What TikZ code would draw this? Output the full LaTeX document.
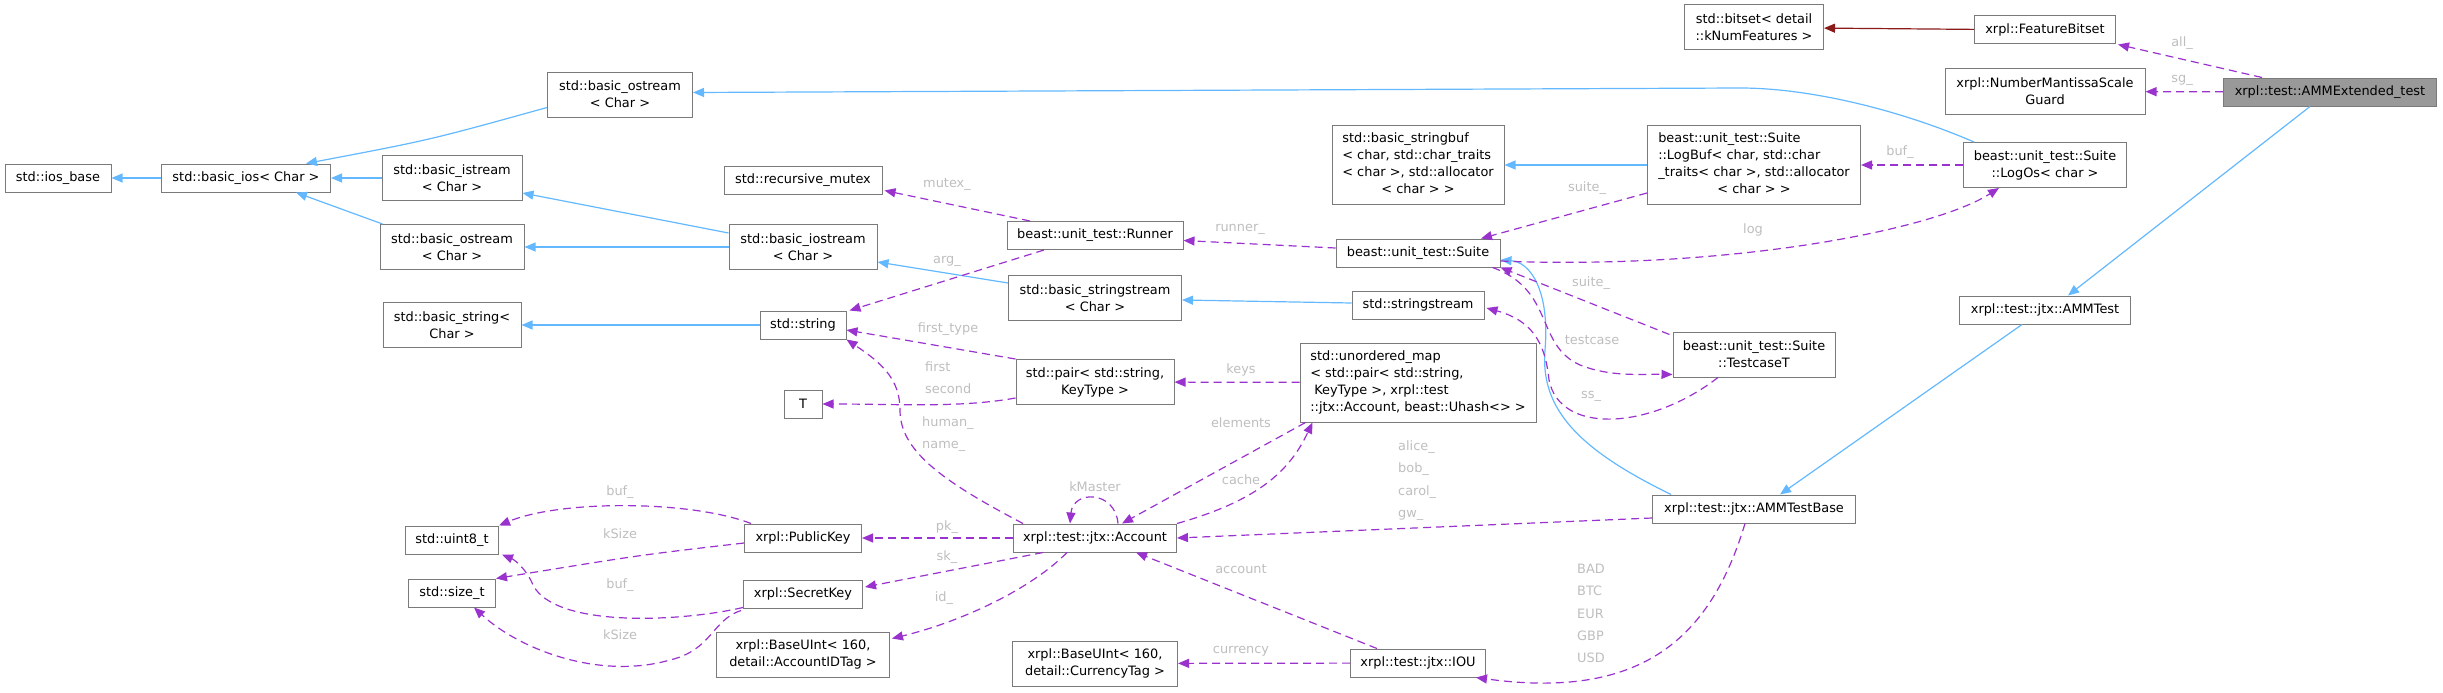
\documentclass[tikz,border=0pt]{standalone}
\usepackage{fontspec}
\setmainfont{DejaVu Sans}
\usetikzlibrary{arrows.meta,calc}
\definecolor{inhblue}{HTML}{63B8FF}
\definecolor{usepurple}{HTML}{9A32CD}
\definecolor{privred}{HTML}{8B1A1A}
\definecolor{boxgray}{HTML}{7A7A7A}
\definecolor{lblgray}{HTML}{BEBEBE}
\definecolor{selfill}{HTML}{999999}
\begin{document}
\begin{tikzpicture}[x=1pt,y=-1pt,
  cls/.style={draw=boxgray, fill=white, line width=1pt, rectangle, inner sep=2pt,
    font=\fontsize{12.9}{17}\selectfont},
  one/.style={minimum height=28pt},
  two/.style={minimum height=45pt},
  four/.style={minimum height=79pt},
  lbl/.style={text=lblgray, inner sep=0pt, font=\fontsize{12.9}{22.3}\selectfont, align=left},
  tip/.style={-{Triangle[length=11pt,width=9pt]}},
  inh/.style={tip, draw=inhblue, line width=1.2pt},
  priv/.style={tip, draw=privred, line width=1.2pt},
  use/.style={tip, draw=usepurple, line width=1.2pt, dash pattern=on 8pt off 5pt}
]
\useasboundingbox (0,0) rectangle (2443,693);

% ---- nodes ----
\node[cls,one,minimum width=106pt] (iosbase) at (58,178) {std::ios\_base};
\node[cls,one,minimum width=169pt] (basicios) at (246,178) {std::basic\_ios< Char >};
\node[cls,two,minimum width=145pt,align=center] (ostreamA) at (620,94.5) {std::basic\_ostream\\< Char >};
\node[cls,two,minimum width=140pt,align=center] (istream) at (452,178) {std::basic\_istream\\< Char >};
\node[cls,two,minimum width=144pt,align=center] (ostreamB) at (452,247) {std::basic\_ostream\\< Char >};
\node[cls,two,minimum width=138pt,align=center] (bstring) at (452,325) {std::basic\_string<\\Char >};
\node[cls,one,minimum width=158pt] (rmutex) at (803,180) {std::recursive\_mutex};
\node[cls,two,minimum width=148pt,align=center] (iostream) at (803,247) {std::basic\_iostream\\< Char >};
\node[cls,one,minimum width=86pt] (string) at (803,325) {std::string};
\node[cls,one,minimum width=38pt] (T) at (803,404) {T};
\node[cls,one,minimum width=176pt] (runner) at (1095,235.5) {beast::unit\_test::Runner};
\node[cls,two,minimum width=173pt,align=center] (sstreamB) at (1095,298) {std::basic\_stringstream\\< Char >};
\node[cls,two,minimum width=158pt,align=center] (pair) at (1095,382) {std::pair< std::string,\\KeyType >};
\node[cls,four,minimum width=172pt] (stringbuf) at (1418,165) {\begin{tabular}{@{}l@{}}std::basic\_stringbuf\\< char, std::char\_traits\\< char >, std::allocator\\\multicolumn{1}{@{}c@{}}{< char > >}\end{tabular}};
\node[cls,one,minimum width=164pt] (suite) at (1418,253) {beast::unit\_test::Suite};
\node[cls,one,minimum width=132pt] (sstream) at (1418,305) {std::stringstream};
\node[cls,four,minimum width=236pt] (umap) at (1418,382.5) {\begin{tabular}{@{}l@{}}std::unordered\_map\\< std::pair< std::string,\\\hspace{4pt}KeyType >, xrpl::test\\::jtx::Account, beast::Uhash<> >\end{tabular}};
\node[cls,two,minimum width=139pt,align=center] (bitset) at (1754,27.5) {std::bitset< detail\\::kNumFeatures >};
\node[cls,one,minimum width=141pt] (featbits) at (2045,30) {xrpl::FeatureBitset};
\node[cls,two,minimum width=200pt,align=center] (nmsg) at (2045,91.5) {xrpl::NumberMantissaScale\\Guard};
\node[cls,one,minimum width=213pt,fill=selfill] (ammext) at (2330,92) {xrpl::test::AMMExtended\_test};
\node[cls,four,minimum width=213pt] (logbuf) at (1754,165) {\begin{tabular}{@{}l@{}}beast::unit\_test::Suite\\::LogBuf< char, std::char\\\_traits< char >, std::allocator\\\multicolumn{1}{@{}c@{}}{< char > >}\end{tabular}};
\node[cls,two,minimum width=163pt,align=center] (logos) at (2045,165) {beast::unit\_test::Suite\\::LogOs< char >};
\node[cls,one,minimum width=171pt] (ammtest) at (2045,310) {xrpl::test::jtx::AMMTest};
\node[cls,two,minimum width=162pt,align=center] (testcaseT) at (1754,354.5) {beast::unit\_test::Suite\\::TestcaseT};
\node[cls,one,minimum width=203pt] (ammbase) at (1754,509) {xrpl::test::jtx::AMMTestBase};
\node[cls,one,minimum width=93pt] (uint8) at (452,540) {std::uint8\_t};
\node[cls,one,minimum width=87pt] (sizet) at (452,593) {std::size\_t};
\node[cls,one,minimum width=117pt] (pubkey) at (803,538) {xrpl::PublicKey};
\node[cls,one,minimum width=119pt] (seckey) at (803,594) {xrpl::SecretKey};
\node[cls,two,minimum width=173pt,align=center] (baseacct) at (803,654.5) {xrpl::BaseUInt< 160,\\ detail::AccountIDTag >};
\node[cls,one,minimum width=163pt] (account) at (1095,538) {xrpl::test::jtx::Account};
\node[cls,two,minimum width=165pt,align=center] (basecur) at (1095,663.5) {xrpl::BaseUInt< 160,\\ detail::CurrencyTag >};
\node[cls,one,minimum width=135pt] (iou) at (1418,663) {xrpl::test::jtx::IOU};

% ---- inheritance ----
\draw[inh] (basicios) -- (iosbase);
\draw[inh] ($(ostreamA.west)+(0,13)$) .. controls (430,140) .. ($(basicios.north)+(60,0)$);
\draw[inh] (istream) -- (basicios);
\draw[inh] ($(ostreamB.north west)+(3,0)$) -- ($(basicios.south)+(50,0)$);
\draw[inh] ($(iostream.west)+(0,-14)$) -- ($(istream.east)+(0,15)$);
\draw[inh] (iostream) -- (ostreamB);
\draw[inh] (string) -- (bstring);
\draw[inh] ($(sstreamB.west)+(0,-15)$) -- ($(iostream.east)+(0,15)$);
\draw[inh] ($(sstream.west)+(0,-2)$) -- ($(sstreamB.east)+(0,2)$);
\draw[inh] (logbuf) -- (stringbuf);
\draw[inh] ($(logos.north west)+(11,0)$) .. controls (1900,110) and (1810,88) .. (1740,88) -- ($(ostreamA.east)+(0,-2)$);
\draw[inh] ($(ammext.south)+(-20,0)$) -- ($(ammtest.north)+(23,0)$);
\draw[inh] ($(ammtest.south)+(-23,0)$) -- ($(ammbase.north)+(26,0)$);
\draw[inh] ($(ammbase.north west)+(19,0)$) .. controls (1580,450) and (1540,410) .. (1545,350) .. controls (1550,290) and (1530,262) .. ($(suite.east)+(0,7)$);
\draw[priv] (featbits) -- (bitset);

% ---- usage ----
\draw[use] ($(ammext.north)+(-68,0)$) -- ($(featbits.south east)+(2,0)$);
\draw[use] (ammext) -- (nmsg);
\draw[use] (logos) -- (logbuf);
\draw[use] ($(logbuf.west)+(0,28)$) -- ($(suite.north)+(63,0)$);
\draw[use] ($(suite.east)+(0,8)$) .. controls (1720,270) and (1930,232) .. ($(logos.south)+(-46,0)$);
\draw[use] ($(suite.west)+(0,-5)$) -- ($(runner.east)+(0,5)$);
\draw[use] ($(runner.north)+(-65,0)$) -- ($(rmutex.south east)+(2,-4)$);
\draw[use] ($(runner.south)+(-51,0)$) -- ($(string.north east)+(3,0)$);
\draw[use] (pair.north west) -- ($(string.east)+(0,5)$);
\draw[use] ($(pair.west)+(0,16)$) .. controls (960,408) and (900,404) .. (T);
\draw[use] (umap) -- (pair);
\draw[use] ($(account.north west)+(10,0)$) .. controls (940,480) and (900,450) .. (900,410) .. controls (900,378) and (880,362) .. (string.south east);
\draw[use] ($(umap.south west)+(6,0)$) -- ($(account.north)+(27,0)$);
\draw[use] (account.north east) .. controls (1260,500) and (1290,470) .. ($(umap.south west)+(13,0)$);
\draw[use] ($(account.north)+(23,0)$) .. controls (1115,490) and (1073,490) .. ($(account.north)+(-25,0)$);
\draw[use] (account) -- (pubkey);
\draw[use] ($(account.south west)+(30,0)$) -- ($(seckey.east)+(2,-7)$);
\draw[use] ($(account.south)+(-28,0)$) .. controls (1030,590) and (960,622) .. ($(baseacct.east)+(2,-16)$);
\draw[use] ($(pubkey.north west)+(7,0)$) .. controls (690,500) and (560,500) .. (uint8.north east);
\draw[use] ($(pubkey.west)+(0,5)$) .. controls (640,555) .. (sizet.north east);
\draw[use] ($(seckey.south west)+(0,-1)$) .. controls (680,622) and (555,628) .. (533,585) .. controls (527,570) and (515,560) .. ($(uint8.south east)+(3,0)$);
\draw[use] ($(seckey.south west)+(-2,2)$) .. controls (712,620) and (712,650) .. (670,660) .. controls (600,680) and (520,650) .. ($(sizet.south)+(22,0)$);
\draw[use] ($(iou.north west)+(27,0)$) -- ($(account.south)+(41,0)$);
\draw[use] (iou) -- (basecur);
\draw[use] ($(ammbase.west)+(0,9)$) -- (account.east);
\draw[use] ($(ammbase.south)+(-9,0)$) .. controls (1710,640) and (1640,700) .. ($(iou.south east)+(-10,0)$);
\draw[use] ($(suite.south east)+(-8,0)$) .. controls (1555,290) and (1535,345) .. (1580,365) .. controls (1610,377) and (1640,374) .. ($(testcaseT.west)+(0,20)$);
\draw[use] ($(testcaseT.north west)+(-3,3)$) -- (suite.south east);
\draw[use] ($(testcaseT.south)+(-36,0)$) .. controls (1650,430) and (1560,435) .. (1549,380) .. controls (1545,340) and (1530,320) .. ($(sstream.east)+(2,3)$);

% ---- labels ----
\node[lbl] (l1) at (2182,43) {all\_};
\node[lbl] (l2) at (2182,80) {sg\_};
\node[lbl] (l3) at (1900,152) {buf\_};
\node[lbl] (l4) at (1587,188) {suite\_};
\node[lbl] (l5) at (1753,230) {log};
\node[lbl] (l6) at (1240,229) {runner\_};
\node[lbl] (l7) at (947,184) {mutex\_};
\node[lbl] (l8) at (947,261) {arg\_};
\node[lbl] (l9) at (948,329) {first\_type};
\node[lbl,anchor=west] (l10) at (925,378) {first\\second};
\node[lbl] (l11) at (1241,370) {keys};
\node[lbl,anchor=west] (l12) at (922,434) {human\_\\name\_};
\node[lbl] (l13) at (1241,423) {elements};
\node[lbl] (l14) at (1241,480) {cache};
\node[lbl] (l15) at (1095,487) {kMaster};
\node[lbl] (l16) at (947,527) {pk\_};
\node[lbl] (l17) at (947,557) {sk\_};
\node[lbl] (l18) at (944,598) {id\_};
\node[lbl] (l19) at (620,492) {buf\_};
\node[lbl] (l20) at (620,534) {kSize};
\node[lbl] (l21) at (620,585) {buf\_};
\node[lbl] (l22) at (620,635) {kSize};
\node[lbl] (l23) at (1241,569) {account};
\node[lbl] (l24) at (1241,651) {currency};
\node[lbl,anchor=west] (l25) at (1398,480.5) {alice\_\\bob\_\\carol\_\\gw\_};
\node[lbl,anchor=west] (l26) at (1577,613.5) {BAD\\BTC\\EUR\\GBP\\USD};
\node[lbl] (l27) at (1592,340) {testcase};
\node[lbl] (l28) at (1591,283) {suite\_};
\node[lbl] (l29) at (1591,396) {ss\_};
\end{tikzpicture}
\end{document}
